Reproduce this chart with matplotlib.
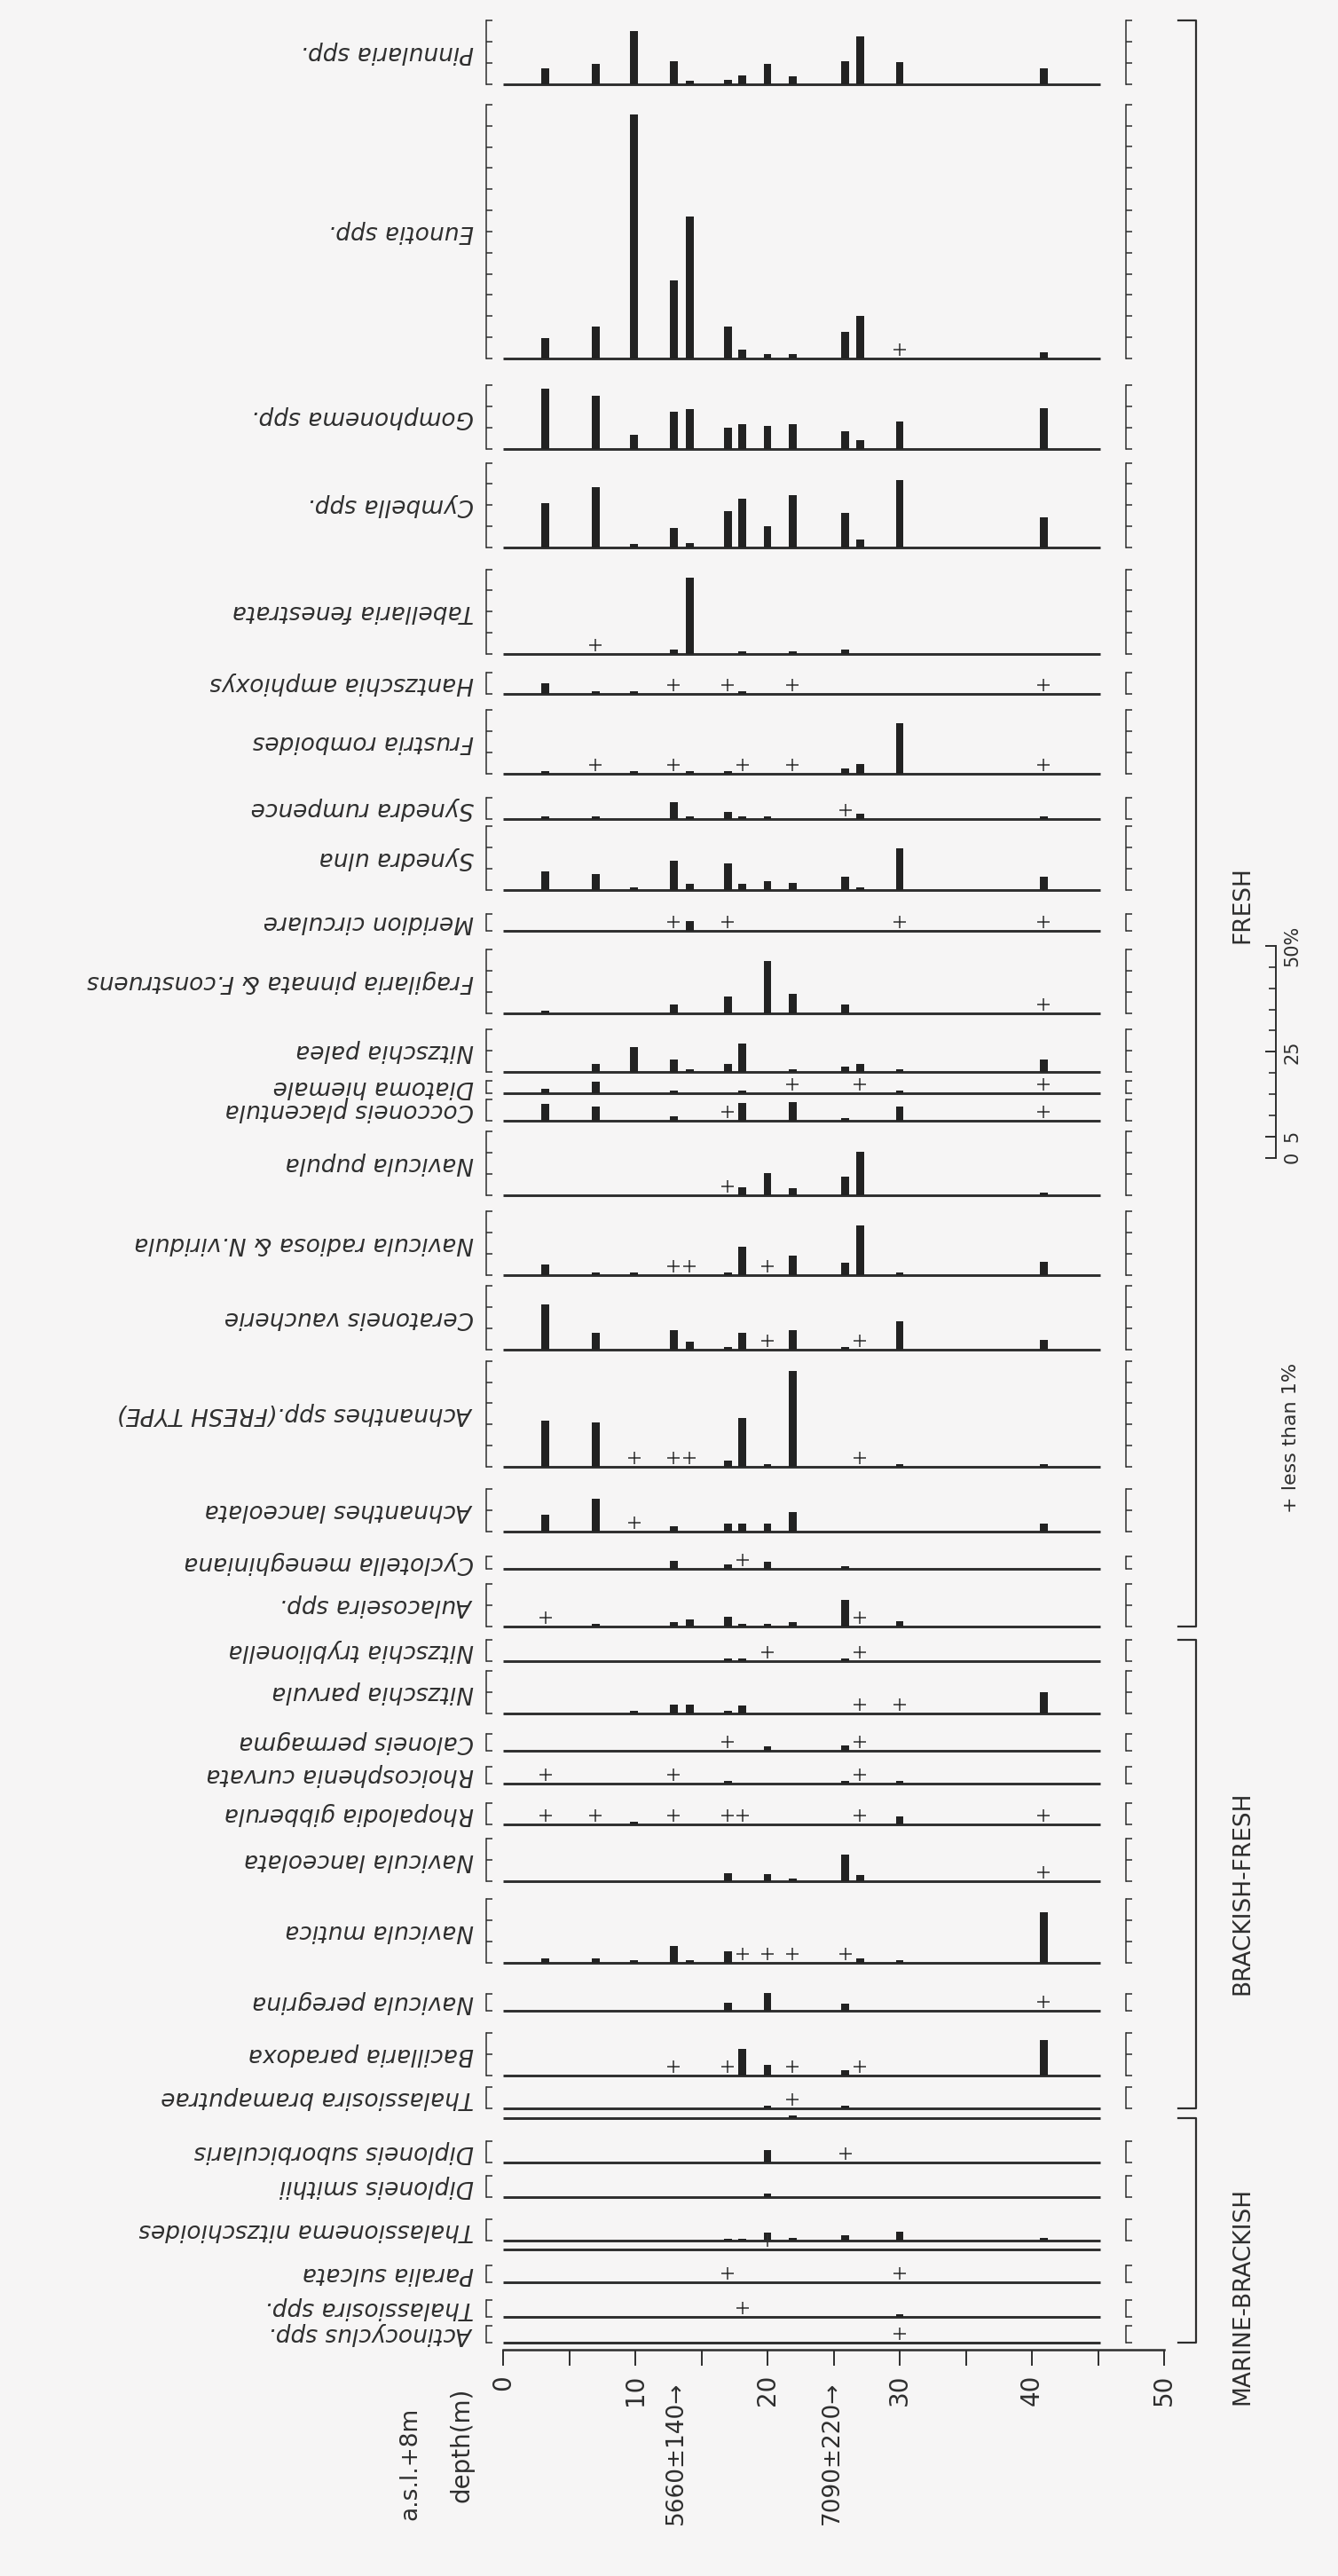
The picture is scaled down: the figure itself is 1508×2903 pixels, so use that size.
import numpy as np
import matplotlib
matplotlib.use("Agg")
import matplotlib.pyplot as plt

# ---- data -------------------------------------------------------------
P = -1  # "+" : present, less than 1 %

depths = [3.2, 7.0, 9.9, 12.9, 14.1, 17.0, 18.1, 20.0, 21.9, 25.9, 27.0, 30.0, 40.9]

species = [
    "Pinnularia spp.", "Eunotia spp.", "Gomphonema spp.", "Cymbella spp.",
    "Tabellaria fenestrata", "Hantzschia amphioxys", "Frustria romboides",
    "Synedra rumpence", "Synedra ulna", "Meridion circulare",
    "Fragilaria pinnata & F.construens", "Nitzschia palea", "Diatoma hiemale",
    "Cocconeis placentula", "Navicula pupula", "Navicula radiosa & N.viridula",
    "Ceratoneis vaucherie", "Achnanthes spp.(FRESH TYPE)", "Achnanthes lanceolata",
    "Cyclotella meneghiniana", "Aulacoseira spp.", "Nitzschia tryblionella",
    "Nitzschia parvula", "Caloneis permagma", "Rhoicosphenia curvata",
    "Rhopalodia gibberula", "Navicula lanceolata", "Navicula mutica",
    "Navicula peregrina", "Bacillaria paradoxa", "Thalassiosira bramaputrae",
    "", "Diploneis suborbicularis", "Diploneis smithii",
    "Thalassionema nitzschioides", "", "Paralia sulcata", "Thalassiosira spp.",
    "Actinocyclus spp.",
]

# top of each percentage scale (%)
scale_max = [15, 60, 15, 20, 20, 5, 15, 5, 15, 4, 15, 10, 3, 5, 15, 15, 15, 25,
             10, 3, 10, 5, 10, 4, 4, 5, 10, 15, 4, 10, 5, 0, 5, 5, 5, 0, 4, 4, 4]

pct = [
    [3.7, 4.9, 12.6, 5.5, 0.8, 1.0, 2.1, 4.9, 1.9, 5.5, 11.4, 5.3, 3.7],
    [4.8, 7.5, 57.7, 18.4, 33.6, 7.6, 2.0, 1.0, 1.0, 6.3, 10.0, P, 1.5],
    [14.2, 12.6, 3.4, 8.9, 9.4, 5.0, 5.9, 5.5, 5.8, 4.1, 2.2, 6.5, 9.6],
    [10.5, 14.3, 0.8, 4.7, 1.0, 8.6, 11.5, 5.0, 12.3, 8.2, 1.9, 16.0, 7.2],
    [0, P, 0, 1.0, 18.0, 0, 0.6, 0, 0.6, 1.0, 0, 0, 0],
    [2.5, 0.6, 0.6, P, 0, P, 0.6, 0, P, 0, 0, 0, P],
    [0.6, P, 0.6, P, 0.6, 0.6, P, 0, P, 1.2, 2.3, 12.0, P],
    [0.7, 0.6, 0, 3.9, 0.6, 1.6, 0.6, 0.6, 0, P, 1.3, 0, 0.6],
    [4.4, 3.7, 0.6, 6.9, 1.5, 6.3, 1.4, 2.1, 1.6, 3.2, 0.6, 9.8, 3.2],
    [0, 0, 0, P, 2.3, P, 0, 0, 0, 0, 0, P, P],
    [0.6, 0, 0, 2.0, 0, 4.0, 0, 12.3, 4.7, 2.1, 0, 0, P],
    [0, 1.9, 5.8, 3.0, 0.6, 1.8, 6.8, 0, 0.6, 1.3, 1.9, 0.6, 3.0],
    [1.0, 2.8, 0, 0.6, 0, 0, 0.6, 0, P, 0, P, 0.6, P],
    [3.9, 3.4, 0, 1.0, 0, P, 4.2, 0, 4.4, 0.6, 0, 3.4, P],
    [0, 0, 0, 0, 0, P, 1.8, 5.2, 1.7, 4.4, 10.3, 0, 0.6],
    [2.5, 0.6, 0.6, P, P, 0.6, 6.7, P, 4.6, 2.9, 11.7, 0.6, 3.1],
    [10.7, 3.9, 0, 4.6, 1.8, 0.6, 3.9, P, 4.6, 0.6, P, 6.7, 2.3],
    [10.9, 10.5, P, P, P, 1.5, 11.6, 0.6, 22.7, 0, P, 0.6, 0.6],
    [3.9, 7.7, P, 1.3, 0, 1.8, 1.8, 1.8, 4.6, 0, 0, 0, 1.8],
    [0, 0, 0, 1.8, 0, 1.0, P, 1.6, 0, 0.6, 0, 0, 0],
    [P, 0.6, 0, 1.1, 1.6, 2.3, 0.6, 0.6, 1.0, 6.2, P, 1.3, 0],
    [0, 0, 0, 0, 0, 0.6, 0.6, P, 0, 0.6, P, 0, 0],
    [0, 0, 0.6, 2.1, 2.1, 0.6, 1.9, 0, 0, 0, P, P, 5.0],
    [0, 0, 0, 0, 0, P, 0, 1.0, 0, 1.2, P, 0, 0],
    [P, 0, 0, P, 0, 0.6, 0, 0, 0, 0.6, P, 0.6, 0],
    [P, P, 0.6, P, 0, P, P, 0, 0, 0, P, 1.9, P],
    [0, 0, 0, 0, 0, 1.8, 0, 1.6, 0.6, 6.3, 1.4, 0, P],
    [1.0, 1.0, 0.6, 3.9, 0.6, 2.8, P, P, P, P, 1.0, 0.6, 11.9],
    [0, 0, 0, 0, 0, 1.8, 0, 4.2, 0, 1.6, 0, 0, P],
    [0, 0, 0, P, 0, P, 6.2, 2.5, P, 1.3, P, 0, 8.3],
    [0, 0, 0, 0, 0, 0, 0, 0.6, P, 0.6, 0, 0, 0],
    [0, 0, 0, 0, 0, 0, 0, 0, 0.6, 0, 0, 0, 0],
    [0, 0, 0, 0, 0, 0, 0, 2.9, 0, P, 0, 0, 0],
    [0, 0, 0, 0, 0, 0, 0, 0.8, 0, 0, 0, 0, 0],
    [0, 0, 0, 0, 0, 0.5, 0.5, 1.9, 0.6, 1.3, 0, 2.2, 0.6],
    [0, 0, 0, 0, 0, 0, 0, P, 0, 0, 0, 0, 0],
    [0, 0, 0, 0, 0, P, 0, 0, 0, 0, 0, P, 0],
    [0, 0, 0, 0, 0, 0, P, 0, 0, 0, 0, 0.6, 0],
    [0, 0, 0, 0, 0, 0, 0, 0, 0, 0, 0, P, 0],
]

groups = ["FRESH", "BRACKISH-FRESH", "MARINE-BRACKISH"]
group_rows = [(0, 20), (21, 30), (31, 38)]

dates = ["5660±140→", "7090±220→"]
date_depths = [13.1, 24.9]

scale_ticks = [0, 5, 25, 50]
scale_labels = ["0", "5", "25", "50%"]

# ---- layout (pixels, measured from the top of the page) ---------------
W, H = 1508, 2903
base_y = [95, 404, 506, 617, 737, 782, 872, 923, 1003, 1049, 1142, 1208, 1232,
          1263, 1347, 1437, 1521, 1653, 1726, 1768, 1833, 1872, 1931, 1973,
          2010, 2056, 2120, 2212, 2266, 2339, 2376, 2387, 2437, 2476, 2525,
          2535, 2572, 2611, 2640]
group_label_y = [1020, 2133, 2587]

X0, PX_M = 567, 14.9          # depth 0 and pixels per metre
PX_PCT = 4.77                 # pixels per percent
BRK_L, BRK_R = 548, 1269      # panel brackets
BASE_END = 45.2               # baseline length (m)
AXIS_Y = 2648
PLUS_Y = 2.1                  # height of the "+" sign above the baseline (%)

BG = "#f6f5f5"
INK = "#2e2e2e"
BAR = "#222222"
FONT = "DejaVu Sans"


def box(x, y_top, w, h):
    return [x / W, 1 - (y_top + h) / H, w / W, h / H]


fig = plt.figure(figsize=(W / 100, H / 100), dpi=100, facecolor=BG)

d = np.array(depths)
xl = (BRK_L - X0) / PX_M
xr = (BRK_R - X0) / PX_M

for i, name in enumerate(species):
    top = scale_max[i]
    ytop = max(top, 0.5)
    h = ytop * PX_PCT
    ax = fig.add_axes(box(BRK_L, base_y[i] - h, BRK_R - BRK_L, h))
    ax.set_xlim(xl, xr)
    ax.set_ylim(0, ytop)
    ax.patch.set_visible(False)
    ax.set_xticks([])
    for s in ("top", "bottom", "right"):
        ax.spines[s].set_visible(False)

    v = np.array(pct[i], dtype=float)
    ax.plot([0, BASE_END], [0, 0], color=INK, lw=2.1, clip_on=False,
            solid_capstyle="butt")
    bars = v > 0
    ax.bar(d[bars], v[bars], width=0.6, color=BAR, clip_on=False, zorder=3)
    plus = v == P
    if plus.any():
        ax.plot(d[plus], np.full(plus.sum(), PLUS_Y), ls="none", marker="+",
                ms=10, mew=1.1, color=INK, clip_on=False)

    if top == 0:
        ax.spines["left"].set_visible(False)
        ax.set_yticks([])
        continue

    ticks = list(range(0, top, 5)) + [top]
    ax.set_yticks(ticks)
    ax.spines["left"].set_linewidth(1.1)
    ax.spines["left"].set_color(INK)
    ax.tick_params(axis="y", direction="in", length=5, width=1.1, color=INK,
                   labelleft=False)
    ax2 = ax.twinx()
    ax2.set_ylim(0, top)
    ax2.set_yticks(ticks)
    for s in ("top", "bottom", "left"):
        ax2.spines[s].set_visible(False)
    ax2.spines["right"].set_linewidth(1.1)
    ax2.spines["right"].set_color(INK)
    ax2.tick_params(axis="y", direction="out", length=5, width=1.1, color=INK,
                    labelright=False)

    fig.text((BRK_L - 14) / W, 1 - (base_y[i] - h / 2) / H, name,
             rotation=180, ha="right", va="center", style="italic",
             fontsize=19, color=INK, family=FONT)

# depth axis
dax = fig.add_axes(box(X0, AXIS_Y - 1, 50 * PX_M, 1))
dax.set_xlim(0, 50)
dax.set_ylim(0, 1)
dax.patch.set_visible(False)
for s in ("top", "left", "right"):
    dax.spines[s].set_visible(False)
dax.spines["bottom"].set_linewidth(1.8)
dax.spines["bottom"].set_color(INK)
dax.set_yticks([])
dax.set_xticks(range(0, 51, 10))
dax.set_xticks(range(5, 50, 10), minor=True)
dax.tick_params(axis="x", which="both", direction="out", length=13, width=1.4,
                color=INK, pad=7)
dax.tick_params(axis="x", labelsize=20, labelrotation=90, labelcolor=INK)
for dd, txt in zip(date_depths, dates):
    dax.annotate(txt, xy=(dd, H - 2684), xycoords=("data", "figure pixels"),
                 rotation=90, ha="center", va="top", fontsize=19, color=INK)

# overlay in page pixels for titles, group brackets and the key
ov = fig.add_axes([0, 0, 1, 1])
ov.set_xlim(0, W)
ov.set_ylim(H, 0)
ov.axis("off")

ov.text(462, 2776, "a.s.l.+8m", rotation=90, ha="center", va="center",
        fontsize=19, color=INK)
ov.text(520, 2755, "depth(m)", rotation=90, ha="center", va="center",
        fontsize=20, color=INK)

GX = 1348
for (r0, r1), name, ly in zip(group_rows, groups, group_label_y):
    y0 = base_y[r0] - scale_max[r0] * PX_PCT
    y1 = base_y[r1]
    ov.plot([GX - 20, GX, GX, GX - 20], [y0, y0, y1, y1], color=INK, lw=1.6)
    ov.text(1400, ly, name, rotation=90, ha="center", va="center",
            fontsize=19, color=INK)

# percentage key
sax = fig.add_axes(box(1418, 1066, 20, 50 * PX_PCT))
sax.set_ylim(0, 50)
sax.patch.set_visible(False)
sax.set_xticks([])
for s in ("top", "bottom", "left"):
    sax.spines[s].set_visible(False)
sax.spines["right"].set_linewidth(1.4)
sax.spines["right"].set_color(INK)
sax.yaxis.tick_right()
sax.set_yticks(scale_ticks)
sax.set_yticklabels(scale_labels, rotation=90, va="center")
sax.set_yticks(range(0, 51, 5), minor=True)
sax.tick_params(axis="y", which="major", direction="in", length=9, width=1.4,
                color=INK, pad=6, labelsize=15, labelcolor=INK)
sax.tick_params(axis="y", which="minor", direction="in", length=6, width=1.2,
                color=INK)

ov.text(1455, 1620, "+ less than 1%", rotation=90, ha="center", va="center",
        fontsize=16, color=INK)

fig.savefig("out.png", dpi=100, facecolor=BG)
